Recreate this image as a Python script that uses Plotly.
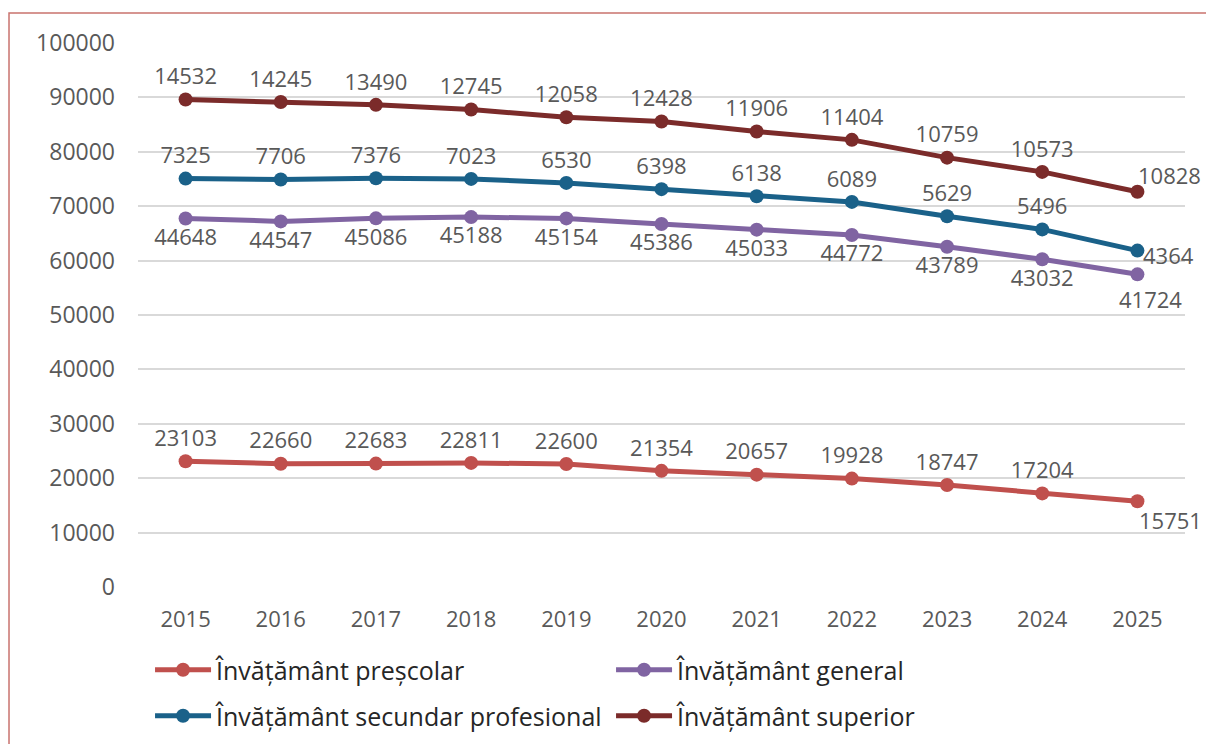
import plotly.graph_objects as go

ani = ["2015", "2016", "2017", "2018", "2019", "2020", "2021", "2022", "2023", "2024", "2025"]

prescolar = [23103, 22660, 22683, 22811, 22600, 21354, 20657, 19928, 18747, 17204, 15751]
general = [44648, 44547, 45086, 45188, 45154, 45386, 45033, 44772, 43789, 43032, 41724]
secundar = [7325, 7706, 7376, 7023, 6530, 6398, 6138, 6089, 5629, 5496, 4364]
superior = [14532, 14245, 13490, 12745, 12058, 12428, 11906, 11404, 10759, 10573, 10828]

# (nume, valori, culoare, pozitie eticheta, legenda, deplasare ultima eticheta)
serii = [
    ("Învățământ preșcolar", prescolar, "#C0504D", "top center", "legend", (0, -19, "left")),
    ("Învățământ general", general, "#8064A2", "bottom center", "legend", (13, -25, "center")),
    ("Învățământ secundar profesional", secundar, "#1A6189", "top center", "legend2", (4, -4, "left")),
    ("Învățământ superior", superior, "#7B2B2A", "top center", "legend2", (-1, 17, "left")),
]

FONT = "Open Sans"
GRI = "#595959"

fig = go.Figure()
cumul = [0] * len(ani)
for nume, valori, culoare, poz, leg, (dx, dy, anc) in serii:
    cumul = [c + v for c, v in zip(cumul, valori)]
    etichete = [str(v) for v in valori[:-1]] + [""]
    fig.add_trace(go.Scatter(
        x=ani, y=valori, name=nume,
        stackgroup="s", fill="none",
        mode="lines+markers+text",
        line=dict(color=culoare, width=5),
        marker=dict(color=culoare, size=14),
        text=etichete,
        textposition=poz,
        textfont=dict(family=FONT, size=22, color=GRI),
        cliponaxis=False,
        legend=leg,
    ))
    # ultima eticheta, asezata ca in original (x = indexul ultimei categorii)
    fig.add_annotation(
        x=len(ani) - 1, y=cumul[-1], text=str(valori[-1]), showarrow=False,
        xanchor=anc, yanchor="middle", xshift=dx, yshift=dy,
        font=dict(family=FONT, size=22, color=GRI),
    )

leg_common = dict(
    orientation="h", x=0.0115, xanchor="left", yanchor="middle", yref="container",
    entrywidth=390, entrywidthmode="pixels", itemwidth=56,
    font=dict(family=FONT, size=25, color="#262626"),
    traceorder="normal", bgcolor="rgba(0,0,0,0)",
)

fig.update_layout(
    width=1206, height=744,
    margin=dict(l=138, r=21, t=43, b=157),
    paper_bgcolor="white", plot_bgcolor="white",
    font=dict(family=FONT, size=22, color=GRI),
    showlegend=True,
    legend=dict(leg_common, y=1 - 670 / 744),
    legend2=dict(leg_common, y=1 - 716 / 744),
    xaxis=dict(
        type="category", range=[-0.5, 10.5], showgrid=False, zeroline=False,
        showline=False, ticks="outside", ticklen=13, tickcolor="rgba(0,0,0,0)",
        tickfont=dict(family=FONT, size=22, color=GRI), automargin=False,
    ),
    yaxis=dict(
        range=[0, 100000], dtick=10000, tickformat="d", showgrid=True,
        gridcolor="#D9D9D9", gridwidth=1.5, zeroline=False, showline=False,
        ticklabelstandoff=22, automargin=False,
        tickfont=dict(family=FONT, size=23, color=GRI),
    ),
    shapes=[dict(
        type="rect", xref="paper", yref="paper",
        x0=-0.1232, x1=1.2, y0=-0.5, y1=1.0551,
        line=dict(color="#C9736E", width=1.5), layer="below",
    )],
)

fig.write_html(
    "out.html",
    config={"displayModeBar": False},
    post_script="document.body.style.margin='0';",
)
